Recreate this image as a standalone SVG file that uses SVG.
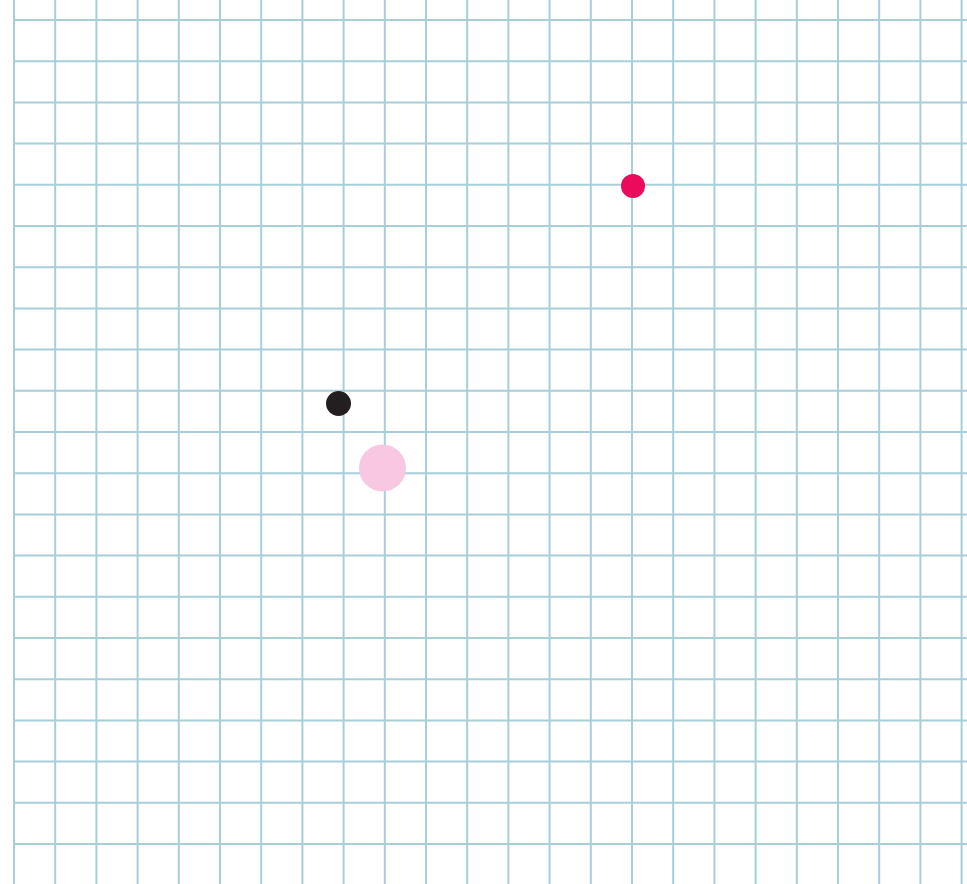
<svg xmlns="http://www.w3.org/2000/svg" width="967" height="884" viewBox="0 0 967 884">
<defs>
<style>
.g{stroke:#a6cfda;stroke-width:2;fill:none}
</style>
</defs>
<rect width="967" height="884" fill="#ffffff"/>
<g id="grid-lines">
<path class="g" d="M14 0V884M55.2 0V884M96.4 0V884M137.6 0V884M178.8 0V884M220 0V884M261.2 0V884M302.4 0V884M343.6 0V884M384.8 0V884M426 0V884M467.2 0V884M508.4 0V884M549.6 0V884M590.8 0V884M632 0V884M673.2 0V884M714.4 0V884M755.6 0V884M796.8 0V884M838 0V884M879.2 0V884M920.4 0V884M961.6 0V884"/>
<path class="g" d="M13 20H967M13 61.2H967M13 102.4H967M13 143.6H967M13 184.8H967M13 226H967M13 267.2H967M13 308.4H967M13 349.6H967M13 390.8H967M13 432H967M13 473.2H967M13 514.4H967M13 555.6H967M13 596.8H967M13 638H967M13 679.2H967M13 720.4H967M13 761.6H967M13 802.8H967M13 844H967"/>
</g>
<g id="pink-circle"><circle cx="382.5" cy="468" r="23.5" fill="#f8c8e2"/></g>
<g id="black-dot"><circle cx="338.5" cy="403.5" r="12.5" fill="#231f20"/></g>
<g id="red-dot"><circle cx="633" cy="186" r="12" fill="#ec0a5c"/></g>
</svg>
